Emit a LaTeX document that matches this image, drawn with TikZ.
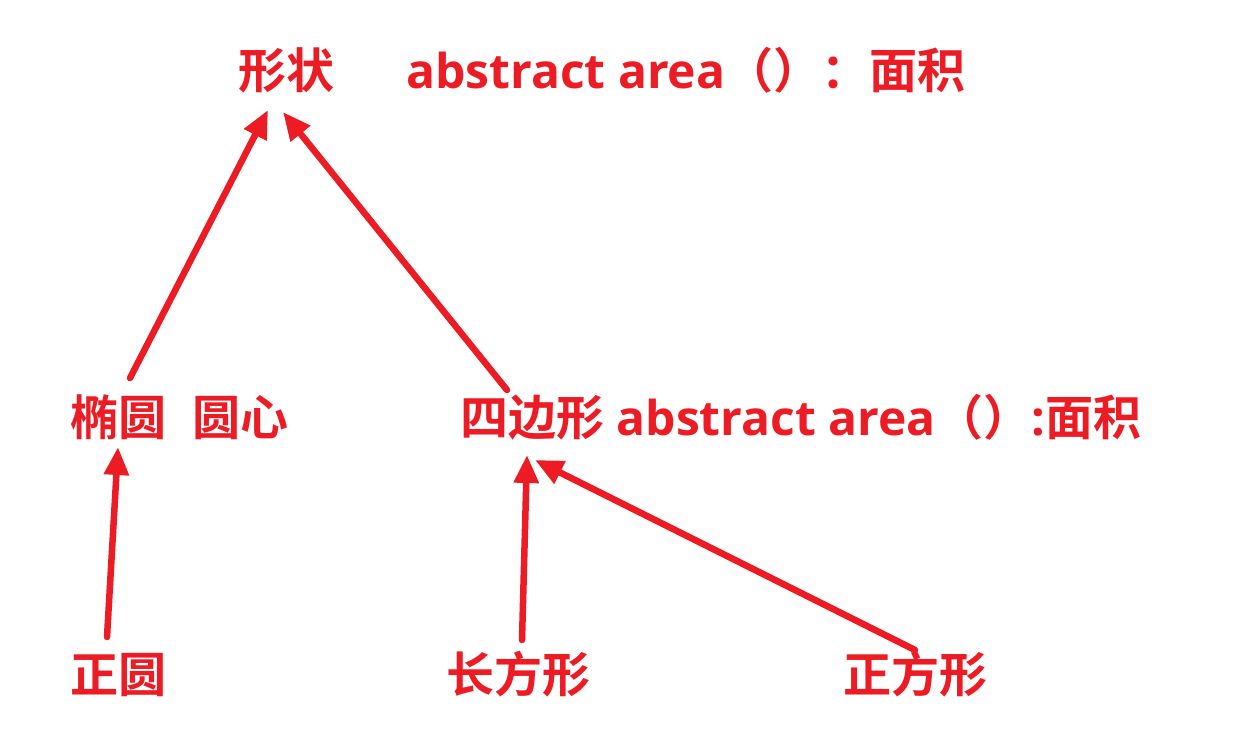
\documentclass[tikz,border=0pt]{standalone}
\usepackage{fontspec}
\setmainfont{Open Sans}
\newfontfamily\cjkfont{Noto Sans CJK SC}[BoldFont={Noto Sans CJK SC Bold}]
\usetikzlibrary{arrows.meta,calc}
\newcommand\zhtxt[1]{{\cjkfont\bfseries #1}}
\definecolor{lblred}{RGB}{237,28,36}
\begin{document}
\begin{tikzpicture}[x=1pt,y=-1pt,
  lbl/.style={anchor=base west,inner sep=0pt,text=lblred,font=\fontsize{48}{56}\selectfont\bfseries},
  arr/.style={draw=lblred,line width=6.5pt,line cap=round,-{Triangle[length=28pt,width=24pt]}}]
\useasboundingbox (0,0) rectangle (1234,732);
\fill[white] (0,0) rectangle (1234,732);
\node[lbl] (shape) at (238,88) {\zhtxt{形状}};
\node[lbl] (abs1) at (406,88) {abstract area\zhtxt{（）：面积}};
\node[lbl] (elli) at (70,435) {\zhtxt{椭圆}\hspace{0.55em}\zhtxt{圆心}};
\node[lbl] (quad) at (460,435) {\zhtxt{四边形} abstract area\zhtxt{（）}:\zhtxt{面积}};
\node[lbl] (circ) at (70,692) {\zhtxt{正圆}};
\node[lbl] (rect) at (446,692) {\zhtxt{长方形}};
\node[lbl] (squa) at (843,692) {\zhtxt{正方形}};
\coordinate (t1) at ($(shape.base west)+(30,22)$);
\coordinate (t2) at ($(shape.base west)+(45,24)$);
\coordinate (s1) at ($(elli.base west)+(60,-57)$);
\coordinate (s2) at ($(quad.base west)+(47,-45)$);
\coordinate (t3) at ($(elli.base west)+(48,12)$);
\coordinate (s3) at ($(circ.base west)+(37,-55)$);
\coordinate (t4) at ($(quad.base west)+(67,20)$);
\coordinate (s4) at ($(rect.base west)+(76,-52)$);
\coordinate (t5) at ($(quad.base west)+(75,25)$);
\coordinate (s5) at ($(squa.base west)+(72,-42)$);
\draw[arr] (s1) -- (t1);
\draw[arr] (s2) -- (t2);
\draw[arr] (s3) -- (t3);
\draw[arr] (s4) -- (t4);
\draw[arr] (s5) -- (t5);
\end{tikzpicture}
\end{document}
